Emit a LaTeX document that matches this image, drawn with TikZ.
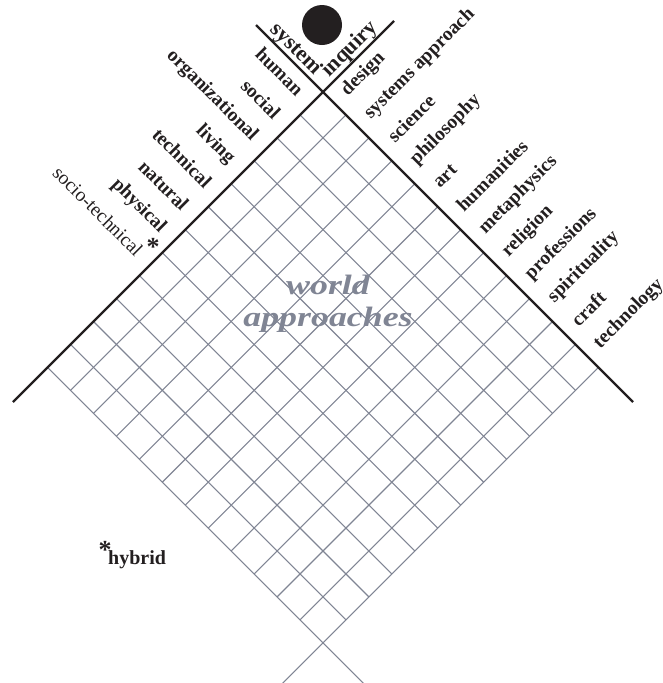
\documentclass[tikz,border=0pt]{standalone}
\usepackage{fontspec}
\setmainfont{Liberation Serif}
\newfontfamily\worldfont[FakeStretch=1.28]{Liberation Serif}
\usetikzlibrary{positioning}
\definecolor{ink}{RGB}{35,31,32}
\definecolor{gridgray}{RGB}{128,133,148}

\begin{document}
\begin{tikzpicture}[x=1pt, y=1pt,
  every node/.style={text=ink, inner sep=0pt},
  leftlbl/.style={rotate=-45, anchor=east, font=\fontsize{19.5}{22}\selectfont\bfseries},
  rightlbl/.style={rotate=45, anchor=west, font=\fontsize{19.5}{22}\selectfont\bfseries},
  gridline/.style={draw=gridgray, line width=1.1pt},
  axisline/.style={draw=ink, line width=2.2pt}]
  \useasboundingbox (0,0) rectangle (662,-683);
  \coordinate (apex) at (323,-92);
  \node[circle, fill=ink, minimum size=40pt] (dot) at (322,-25) {};
  % p runs down-right, q runs down-left from the apex
  \begin{scope}[shift={(apex)}, x={(0.5pt,-0.5pt)}, y={(-0.5pt,-0.5pt)}]
    \def\cell{45.9}
    \foreach \k in {1,...,11} {
      \draw[gridline] (\k*\cell,0) -- (\k*\cell,12*\cell);
      \draw[gridline] (0,\k*\cell) -- (12*\cell,\k*\cell);
    }
    \draw[gridline] (12*\cell,0) -- (12*\cell,632);
    \draw[gridline] (0,12*\cell) -- (632,12*\cell);
    \coordinate (nw) at (-134,0);
    \coordinate (se) at (620,0);
    \coordinate (ne) at (0,-142);
    \coordinate (sw) at (0,620);
    \draw[axisline] (nw) -- (se);
    \draw[axisline] (ne) -- (sw);
    \node[rotate=-45, anchor=base, font=\fontsize{22}{26}\selectfont\bfseries] (sys) at (-70,-8) {system};
    \node[rotate=45, anchor=base, font=\fontsize{22}{26}\selectfont\bfseries] (inq) at (-8,-70) {inquiry};
    \foreach \name [count=\k] in {human, social, organizational, living, technical, natural, physical}
      \node[leftlbl] (L\k) at (-22, {(\k-0.5)*\cell}) {\name};
    \node[leftlbl, font=\fontsize{19.5}{22}\selectfont] (L8) at (-22, {7.5*\cell}) {socio-technical};
    \foreach \name [count=\k] in {design, systems approach, science, philosophy, art, humanities, metaphysics, religion, professions, spirituality, craft, technology}
      \node[rightlbl] (R\k) at ({(\k-0.5)*\cell}, -20) {\name};
  \end{scope}
  \node[font=\fontsize{26}{26}\selectfont\bfseries] (star) at (153,-247) {*};
  \node[align=center, text=gridgray, font=\worldfont\fontsize{28}{32}\selectfont\bfseries\itshape] (world) at (328,-304) {world\\approaches};
  \node[font=\fontsize{26}{26}\selectfont\bfseries] (hstar) at (105,-550) {*};
  \node[anchor=base west, font=\fontsize{20}{22}\selectfont\bfseries] (hybrid) at (108,-564) {hybrid};
\end{tikzpicture}
\end{document}
